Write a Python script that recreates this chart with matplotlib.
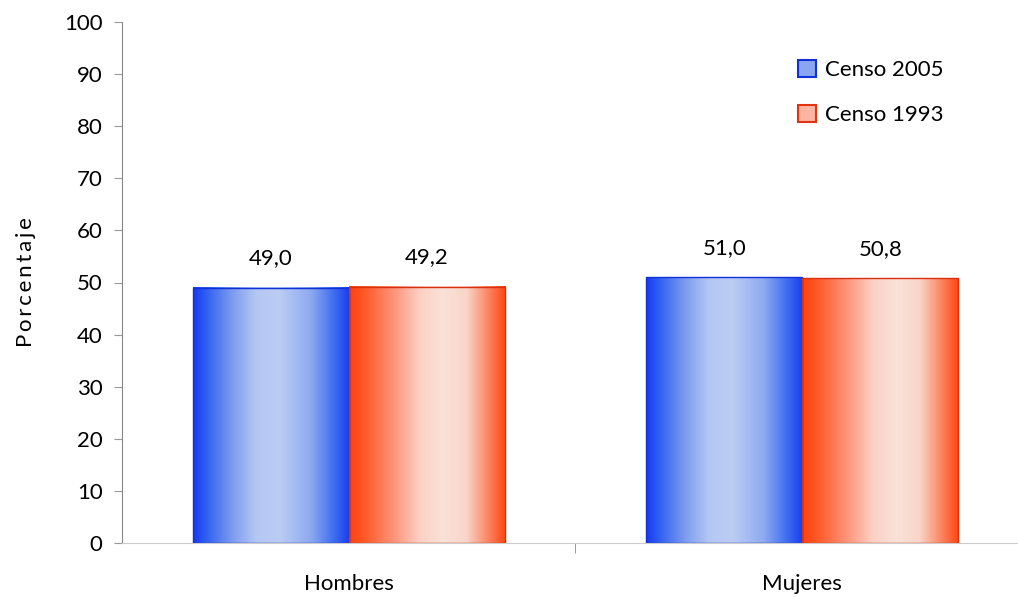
import numpy as np
import matplotlib.pyplot as plt
from matplotlib.colors import LinearSegmentedColormap
from matplotlib.patches import Patch

categorias = ['Hombres', 'Mujeres']
series = ['Censo 2005', 'Censo 1993']
censo_2005 = [49.0, 51.0]
censo_1993 = [49.2, 50.8]
etiquetas = [['49,0', '51,0'], ['49,2', '50,8']]

plt.rcParams['font.family'] = ['Lato', 'DejaVu Sans']

# degradados de las barras
cmap_azul = LinearSegmentedColormap.from_list('azul', [
    (0.0, '#1838f2'), (0.08, '#2f5ff2'), (0.25, '#7d9cee'), (0.4, '#b4c7f3'),
    (0.55, '#bccdf4'), (0.75, '#8eaaf0'), (0.9, '#3f6df2'), (1.0, '#1a3cf0')])
cmap_rojo = LinearSegmentedColormap.from_list('rojo', [
    (0.0, '#ff4010'), (0.1, '#ff5a28'), (0.3, '#fc9a80'), (0.45, '#fbd0c4'),
    (0.6, '#fae2d8'), (0.75, '#f9d5c9'), (0.88, '#fc8a68'), (1.0, '#ff4512')])

fig = plt.figure(figsize=(10.18, 5.97), dpi=100)
ax = fig.add_axes([122 / 1018, 1 - 543 / 597, 1 - 122 / 1018, (543 - 22) / 597])

x = np.arange(len(categorias))
ancho = 0.344
grad = np.linspace(0, 1, 256).reshape(1, -1)

barras_a = ax.bar(x - ancho / 2, censo_2005, ancho, facecolor='none',
                  edgecolor='#1030d8', linewidth=1.0, zorder=3)
barras_r = ax.bar(x + ancho / 2, censo_1993, ancho, facecolor='none',
                  edgecolor='#d83010', linewidth=1.0, zorder=3)

for barras, cmap in [(barras_a, cmap_azul), (barras_r, cmap_rojo)]:
    for b in barras:
        x0, y0 = b.get_x(), b.get_y()
        ax.imshow(grad, cmap=cmap, aspect='auto', zorder=2,
                  extent=[x0, x0 + b.get_width(), y0, y0 + b.get_height()])

for barras, et in [(barras_a, etiquetas[0]), (barras_r, etiquetas[1])]:
    for b, t in zip(barras, et):
        ax.annotate(t, (b.get_x() + b.get_width() / 2, b.get_height()),
                    xytext=(0, 14), textcoords='offset points',
                    ha='center', va='bottom', fontsize=16)

ax.set_xlim(-0.5, 1.5 - 11 / 454)
ax.set_ylim(0, 100)
ax.set_yticks(np.arange(0, 101, 10))
ax.set_xticks(x)
ax.set_xticklabels(categorias, fontsize=16)
ax.set_xticks([0.5], minor=True)
ax.tick_params(axis='x', which='major', length=0, pad=22)
ax.tick_params(axis='x', which='minor', length=7, color='#888888')
ax.tick_params(axis='y', length=6, color='#999999', labelsize=16, pad=8)

for s in ['top', 'right']:
    ax.spines[s].set_visible(False)
ax.spines['left'].set_color('#888888')
ax.spines['bottom'].set_color('#cccccc')

ax.set_ylabel('\u2009'.join('Porcentaje'), fontsize=16, labelpad=20)

handles = [Patch(facecolor='#8aa6f0', edgecolor='#1030d8', linewidth=1.5),
           Patch(facecolor='#fbb5a2', edgecolor='#e03510', linewidth=1.5)]
ax.legend(handles, series, loc='upper left', bbox_to_anchor=(0.732, 0.965),
          frameon=False, fontsize=16, handlelength=0.8, handleheight=0.8,
          handletextpad=0.4, labelspacing=1.1)

fig.savefig('out.png', dpi=100)
